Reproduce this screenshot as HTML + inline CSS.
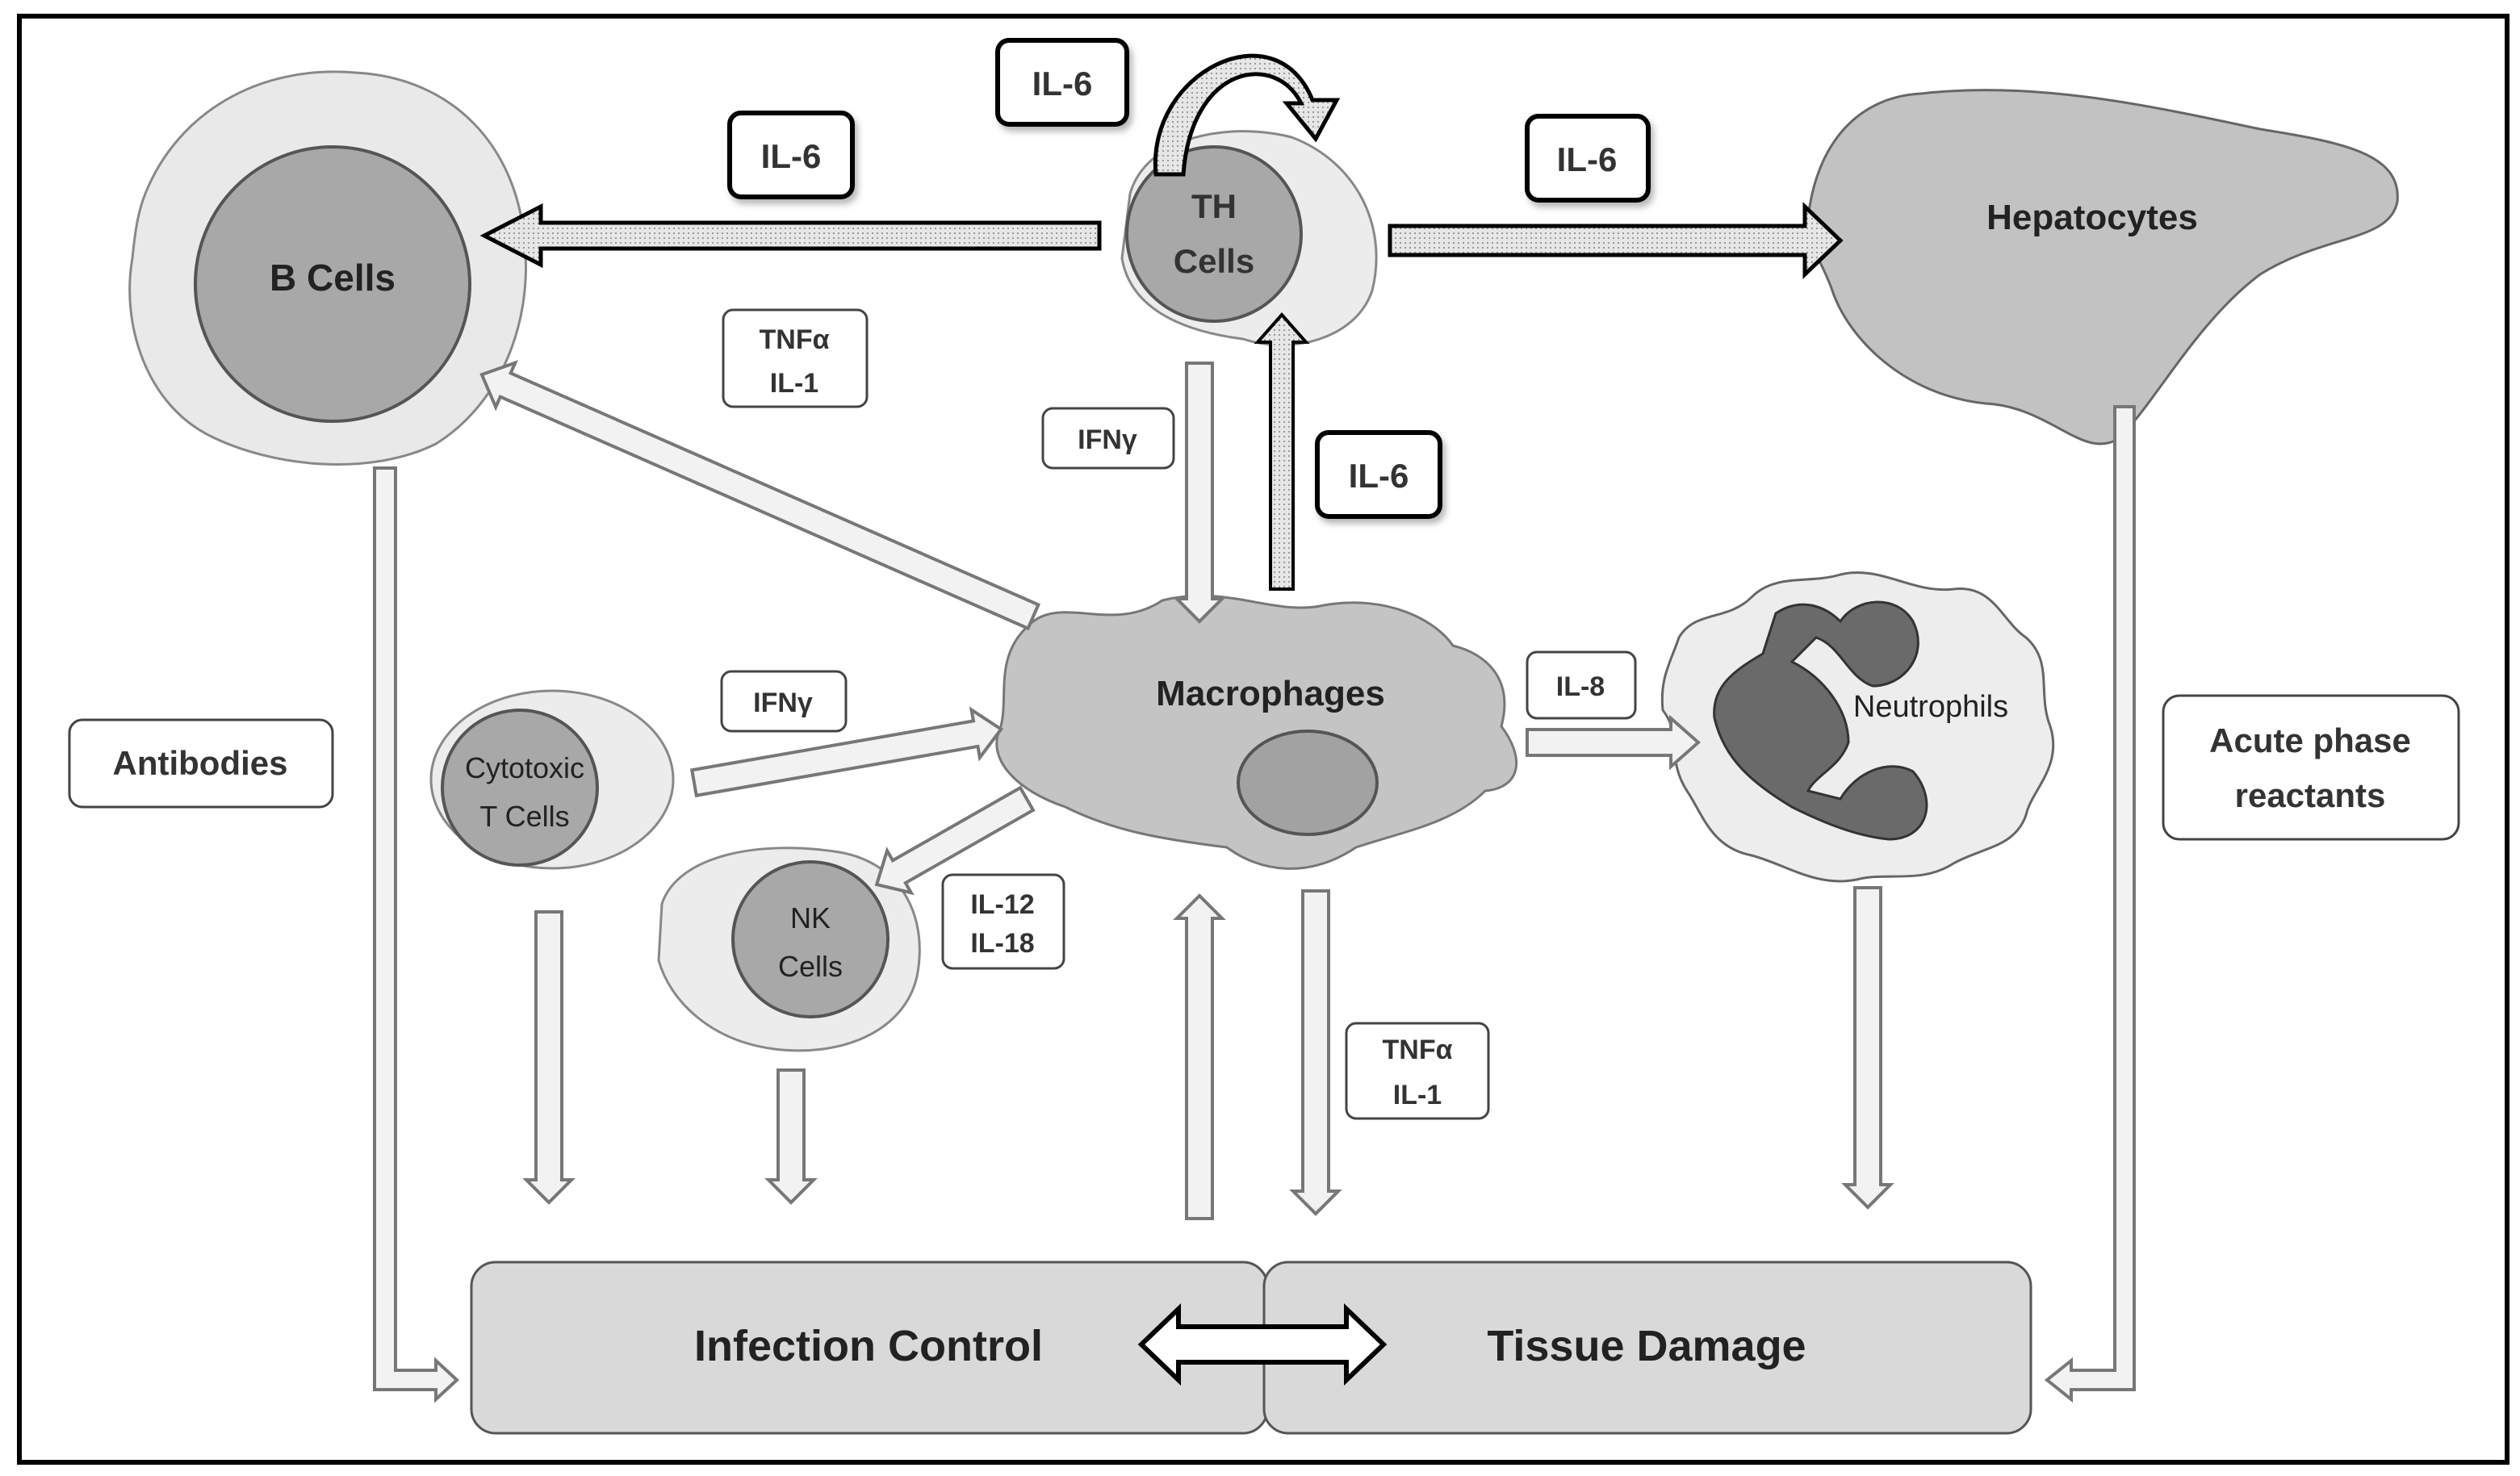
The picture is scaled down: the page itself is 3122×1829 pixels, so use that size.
<!DOCTYPE html>
<html><head><meta charset="utf-8"><style>html,body{margin:0;padding:0;background:#fff}svg{display:block}</style></head><body>
<svg width="3122" height="1829" viewBox="0 0 1561 914.5" xmlns="http://www.w3.org/2000/svg" font-family="Liberation Sans, sans-serif">
<defs>
<pattern id="dots" width="3" height="3" patternUnits="userSpaceOnUse"><rect width="3" height="3" fill="#e6e6e6"/><rect width="1" height="1" fill="#999"/></pattern>
<filter id="sh" x="-20%" y="-20%" width="150%" height="150%"><feDropShadow dx="2" dy="3" stdDeviation="2" flood-color="#888" flood-opacity="0.6"/></filter>
</defs>
<rect x="12" y="10" width="1541" height="896" fill="#fff" stroke="#000" stroke-width="3"/>

<!-- B cell -->
<path d="M90,120 C110,70 160,40 220,45 C280,48 320,90 325,150 C330,200 310,250 270,275 C230,295 170,290 130,270 C90,250 75,200 82,160 C84,140 86,130 90,120 Z" fill="#e9e9e9" stroke="#888" stroke-width="1.5"/>
<circle cx="206" cy="176" r="85" fill="#a8a8a8" stroke="#555" stroke-width="2"/>
<text x="206" y="180" font-size="23" font-weight="bold" text-anchor="middle" fill="#222">B Cells</text>

<!-- TH cell -->
<path d="M700,120 C710,85 760,75 800,85 C840,100 860,140 850,180 C840,210 800,220 770,210 C730,205 700,190 695,160 Z" fill="#ececec" stroke="#888" stroke-width="1.5"/>
<circle cx="752" cy="145" r="54" fill="#a8a8a8" stroke="#555" stroke-width="2"/>
<text x="752" y="135" font-size="21" font-weight="bold" text-anchor="middle" fill="#333">TH</text>
<text x="752" y="169" font-size="21" font-weight="bold" text-anchor="middle" fill="#333">Cells</text>

<!-- curved arrow -->
<path d="M716,108 C710,45 790,5 813,62 L828,62 L815,86 L797,64 L806,64 C790,32 738,40 733,108 Z" fill="url(#dots)" stroke="#000" stroke-width="2.5"/>

<!-- Hepatocytes -->
<path d="M1120,135 C1125,90 1150,60 1190,58 C1260,50 1330,65 1400,80 C1450,88 1488,95 1485,125 C1480,150 1440,145 1400,170 C1360,200 1335,250 1312,272 C1290,285 1270,252 1230,250 C1180,245 1145,210 1135,180 C1128,160 1118,150 1120,135 Z" fill="#c2c2c2" stroke="#666" stroke-width="1.5"/>
<text x="1296" y="142" font-size="22" font-weight="bold" text-anchor="middle" fill="#222">Hepatocytes</text>

<!-- big dotted arrows -->
<polygon points="681,138 335,138 335,128 300,146 335,164 335,154 681,154" fill="url(#dots)" stroke="#000" stroke-width="2.5"/>
<polygon points="861,140 1118,140 1118,128 1140,149 1118,170 1118,158 861,158" fill="url(#dots)" stroke="#000" stroke-width="2.5"/>
<polygon points="787,365 801,365 801,212 809,212 794,195 779,212 787,212" fill="url(#dots)" stroke="#000" stroke-width="2"/>

<!-- IL-6 boxes -->
<g filter="url(#sh)" fill="#fff" stroke="#000" stroke-width="3">
<rect x="618" y="25" width="80" height="52" rx="7"/>
<rect x="452" y="70" width="76" height="52" rx="7"/>
<rect x="946" y="72" width="75" height="52" rx="7"/>
<rect x="816" y="268" width="76" height="52" rx="7"/>
</g>
<g font-size="21" font-weight="bold" text-anchor="middle" fill="#333">
<text x="658" y="59">IL-6</text><text x="490" y="104">IL-6</text><text x="983" y="106">IL-6</text><text x="854" y="302">IL-6</text>
</g>

<!-- Macrophages -->
<path d="M640,385 C660,370 690,392 720,372 C760,362 790,382 820,375 C860,368 890,385 900,400 C920,405 938,420 930,450 C945,470 942,488 920,490 C900,510 870,515 840,525 C810,545 780,540 760,525 C720,520 690,515 660,500 C630,490 610,470 620,450 C625,430 615,405 640,385 Z" fill="#c4c4c4" stroke="#777" stroke-width="1.5"/>
<ellipse cx="810" cy="485" rx="43" ry="32" fill="#a2a2a2" stroke="#555" stroke-width="2"/>
<text x="787" y="437" font-size="22" font-weight="bold" text-anchor="middle" fill="#222">Macrophages</text>

<!-- Neutrophil -->
<path d="M1040,395 C1050,378 1070,385 1085,370 C1100,355 1120,362 1140,356 C1165,350 1185,368 1210,365 C1235,362 1240,385 1255,395 C1272,410 1262,430 1270,450 C1278,475 1258,490 1255,505 C1248,525 1228,525 1210,535 C1190,548 1168,540 1150,545 C1125,550 1105,535 1085,530 C1060,525 1055,505 1045,490 C1032,470 1042,455 1030,440 C1028,420 1035,410 1040,395 Z" fill="#ededed" stroke="#666" stroke-width="1.5"/>
<g fill="#6a6a6a" stroke="#333" stroke-width="1.5">
<path d="M1092,405 L1100,380 C1115,370 1130,375 1140,385 C1150,370 1175,368 1185,385 C1195,405 1180,425 1160,425 C1145,420 1140,400 1125,395 L1110,410 C1130,420 1145,440 1145,460 C1140,475 1125,480 1120,490 L1140,495 C1150,478 1170,470 1185,478 C1200,495 1195,520 1170,520 C1150,518 1130,510 1110,500 C1085,485 1068,470 1062,445 C1060,425 1075,415 1092,405 Z"/>
</g>
<text x="1196" y="444" font-size="19" text-anchor="middle" fill="#222">Neutrophils</text>
<polygon points="946,452 1035,452 1035,445 1052,460 1035,475 1035,468 946,468" fill="#f2f2f2" stroke="#777" stroke-width="2"/>

<!-- small boxes -->
<g fill="#fff" stroke="#444" stroke-width="1.5">
<rect x="448" y="192" width="89" height="60" rx="6"/>
<rect x="646" y="253" width="81" height="37" rx="6"/>
<rect x="946" y="404" width="67" height="41" rx="6"/>
<rect x="447" y="416" width="77" height="37" rx="6"/>
<rect x="584" y="542" width="75" height="58" rx="6"/>
<rect x="834" y="634" width="88" height="59" rx="6"/>
<rect x="1340" y="431" width="183" height="89" rx="10"/>
<rect x="43" y="446" width="163" height="54" rx="8"/>
</g>
<g font-size="17" font-weight="bold" text-anchor="middle" fill="#333">
<text x="492" y="216">TNFα</text><text x="492" y="243">IL-1</text>
<text x="686" y="278">IFNγ</text>
<text x="979" y="431">IL-8</text>
<text x="485" y="441">IFNγ</text>
<text x="621" y="566">IL-12</text><text x="621" y="590">IL-18</text>
<text x="878" y="656">TNFα</text><text x="878" y="684">IL-1</text>
<text x="1431" y="466" font-size="21">Acute phase</text><text x="1431" y="500" font-size="21">reactants</text>
<text x="124" y="480" font-size="21">Antibodies</text>
</g>

<!-- Cytotoxic T -->
<ellipse cx="342" cy="483" rx="75" ry="55" fill="#ececec" stroke="#888" stroke-width="1.5"/>
<circle cx="322" cy="488" r="48" fill="#a8a8a8" stroke="#555" stroke-width="2"/>
<text x="325" y="482" font-size="18" text-anchor="middle" fill="#222">Cytotoxic</text>
<text x="325" y="512" font-size="18" text-anchor="middle" fill="#222">T Cells</text>

<!-- NK -->
<path d="M410,560 C420,530 470,520 520,528 C560,535 575,570 568,605 C560,640 520,655 480,650 C440,645 415,620 408,595 Z" fill="#ececec" stroke="#888" stroke-width="1.5"/>
<circle cx="502" cy="582" r="48" fill="#a8a8a8" stroke="#555" stroke-width="2"/>
<text x="502" y="575" font-size="18" text-anchor="middle" fill="#222">NK</text>
<text x="502" y="605" font-size="18" text-anchor="middle" fill="#222">Cells</text>

<!-- light arrows -->
<g fill="#f2f2f2" stroke="#777" stroke-width="2">
<polygon points="735,225 751,225 751,371 757,371 743,385 729,371 735,371"/>
<polygon points="332,565 348,565 348,731 354,731 340,745 326,731 332,731"/>
<polygon points="482,663 498,663 498,731 504,731 490,745 476,731 482,731"/>
<polygon points="807,552 823,552 823,738 829,738 815,752 801,738 807,738"/>
<polygon points="1149,550 1165,550 1165,734 1171,734 1157,748 1143,734 1149,734"/>
<polygon points="735,755 751,755 751,569 757,569 743,555 729,569 735,569"/>
<g transform="translate(640,382) rotate(203.7)"><polygon points="0,-8 357,-8 357,-15 373,0 357,15 357,8 0,8"/></g>
<g transform="translate(430,485) rotate(-9.9)"><polygon points="0,-8 177,-8 177,-15 193,0 177,15 177,8 0,8"/></g>
<g transform="translate(636,495) rotate(150.3)"><polygon points="0,-8 91,-8 91,-15 107,0 91,15 91,8 0,8"/></g>
<polygon points="232,290 245,290 245,849 270,849 270,843 283,855 270,867 270,861 232,861"/>
<polygon points="1310,252 1322,252 1322,861 1283,861 1283,867 1268,855 1283,843 1283,849 1310,849"/>
</g>

<!-- bottom boxes -->
<rect x="292" y="782" width="493" height="106" rx="15" fill="#d9d9d9" stroke="#555" stroke-width="1.5"/>
<rect x="783" y="782" width="475" height="106" rx="15" fill="#d9d9d9" stroke="#555" stroke-width="1.5"/>
<text x="538" y="843" font-size="27" font-weight="bold" text-anchor="middle" fill="#222">Infection Control</text>
<text x="1020" y="843" font-size="27" font-weight="bold" text-anchor="middle" fill="#222">Tissue Damage</text>
<polygon points="707,833 730,811 730,822 834,822 834,811 857,833 834,855 834,844 730,844 730,855" fill="#fff" stroke="#000" stroke-width="3"/>
</svg>
</body></html>
